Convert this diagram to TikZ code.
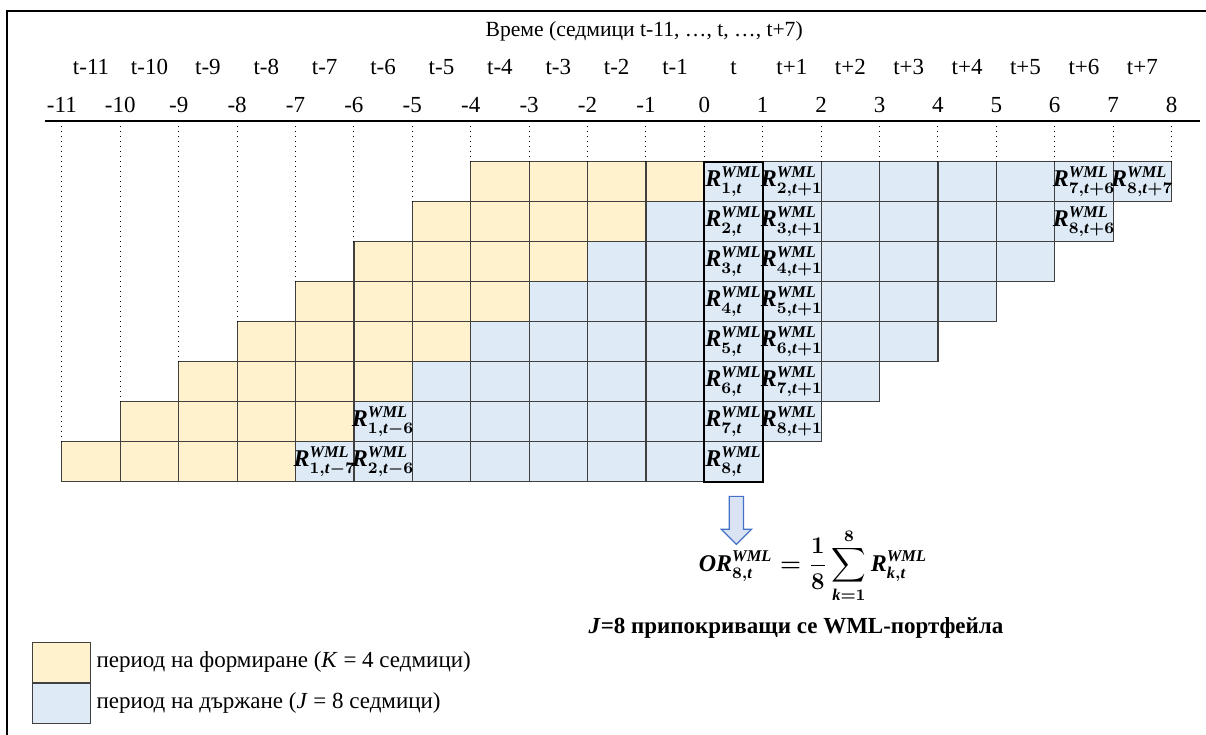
\documentclass[tikz,border=0pt]{standalone}
\usepackage{amsmath, amssymb}
\usepackage{fontspec}
\setmainfont{Liberation Serif}
\usepackage{xcolor}
\usepackage{tikz}
\usetikzlibrary{positioning, arrows.meta, shapes, shapes.arrows, calc}

\definecolor{formfill}{HTML}{FFF2CC}
\definecolor{holdfill}{HTML}{DEEBF7}
\definecolor{gridline}{HTML}{404040}
\definecolor{arrowfill}{HTML}{DAE3F3}
\definecolor{arrowline}{HTML}{4472C4}

% scripts for the return labels
\DeclareMathSizes{12}{12}{8.2}{6.5}

\newcommand{\bi}[1]{\textbf{\textit{#1}}}
\newcommand{\rwml}[2]{$\bi{R}^{\bi{WML}}_{#1,\bi{t}#2}$}

\begin{document}
\begin{tikzpicture}[x=29.2pt, y=-20pt, font=\fontsize{11.5}{13}\selectfont,
        formcell/.style={draw=gridline, fill=formfill, line width=0.6pt},
        holdcell/.style={draw=gridline, fill=holdfill, line width=0.6pt},
        rlbl/.style={inner sep=0pt, font=\fontsize{12}{14}\selectfont\mathversion{bold}},
        ticklbl/.style={anchor=base, inner sep=0pt},
        tickline/.style={dotted, line width=0.5pt},
        keybox/.style={minimum width=28.9pt, minimum height=20pt, inner sep=0pt, anchor=north west}]
    \useasboundingbox (-12.06,-4.04) rectangle (8.59,14.33);
    % frame
    \draw[line width=1pt] (8.59,-3.77) -- (-11.94,-3.77) -- (-11.94,14.33);

    % portfolios: 4 weeks formation, 8 weeks holding
    \foreach \k in {1,...,8} {
        \foreach \i in {0,...,3}
            \draw[formcell] (-\k-3+\i,\k-1) rectangle ++(1,1);
        \foreach \i in {0,...,7}
            \draw[holdcell] (-\k+1+\i,\k-1) rectangle ++(1,1);
    }
    \draw[line width=1.1pt] (0,0) rectangle (1,8);

    % returns in week t
    \foreach \k in {1,...,8}
        \node[rlbl] (r\k) at (0.5,\k-0.5) {\rwml{\k}{}};
    \foreach \k [evaluate=\k as \n using int(\k+1)] in {1,...,7}
        \node[rlbl] (s\k) at (1.5,\k-0.5) {\rwml{\n}{+1}};
    \node[rlbl] (r7a) at (6.5,0.5) {\rwml{7}{+6}};
    \node[rlbl] (r8a) at (7.5,0.5) {\rwml{8}{+7}};
    \node[rlbl] (r8b) at (6.5,1.5) {\rwml{8}{+6}};
    \node[rlbl] (r1a) at (-5.5,6.5) {\rwml{1}{-6}};
    \node[rlbl] (r1b) at (-6.5,7.5) {\rwml{1}{-7}};
    \node[rlbl] (r2b) at (-5.5,7.5) {\rwml{2}{-6}};

    % time axis
    \draw[line width=1pt] (-11.29,-1.02) -- (8.49,-1.02);
    \foreach \c in {-11,...,8} {
        \draw[tickline] (\c,-1.02) -- (\c,{max(0,-\c-4)});
        \node[ticklbl] (num\c) at (\c,-1.24) {\c};
    }
    \foreach \c in {-11,...,-1}
        \node[ticklbl] (wk\c) at (\c+0.5,-2.17) {t\c};
    \node[ticklbl] (wk0) at (0.5,-2.17) {t};
    \foreach \c in {1,...,7}
        \node[ticklbl] (wk\c) at (\c+0.5,-2.17) {t+\c};
    \node[ticklbl, font=\fontsize{10.8}{12}\selectfont] (title) at (-1.03,-3.12)
        {Време (седмици t-11, \dots, t, \dots, t+7)};

    % overlapping portfolio return
    \node[single arrow, rotate=-90, draw=arrowline, fill=arrowfill, line width=0.6pt,
        minimum height=24pt, minimum width=14.5pt, single arrow head extend=4pt,
        inner sep=3.25pt] (marker) at (0.55,8.88) {};
    \node[font=\fontsize{12}{14}\selectfont\mathversion{bold}] (orform) at (1.86,10.1)
        {$\displaystyle \bi{OR}^{\bi{WML}}_{8,\bi{t}} = \frac{1}{8}\sum_{\bi{k}=1}^{8} \bi{R}^{\bi{WML}}_{\bi{k},\bi{t}}$};
    \node[ticklbl] (caption) at (1.57,11.8)
        {\textbf{\textit{J}=8 припокриващи се WML-портфейла}};

    % legend
    \node[formcell, keybox] (formkey) at (-11.51,12) {};
    \node[holdcell, keybox, anchor=north] (holdkey) at (formkey.south) {};
    \node[right=1.5pt of formkey, inner sep=1pt] (formtxt) {период на формиране (\textit{K} = 4 седмици)};
    \node[right=1.5pt of holdkey, inner sep=1pt] (holdtxt) {период на държане (\textit{J} = 8 седмици)};
\end{tikzpicture}
\end{document}
